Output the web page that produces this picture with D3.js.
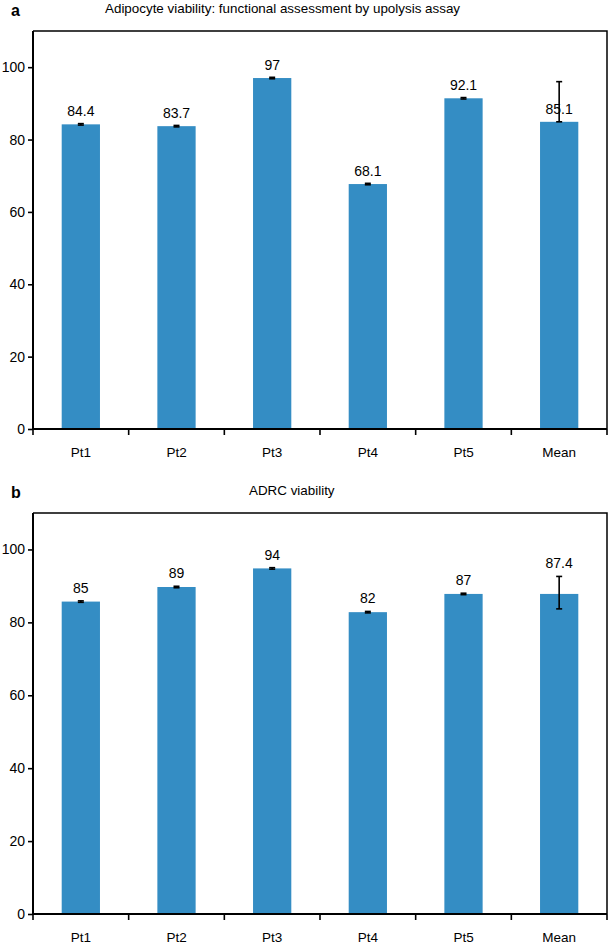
<!DOCTYPE html>
<html>
<head>
<meta charset="utf-8">
<script src="https://cdn.jsdelivr.net/npm/d3@7"></script>
<style>
  body { margin: 0; background: #fff; }
  svg { display: block; font-family: "Liberation Sans", Arial, sans-serif; }
</style>
</head>
<body>
<div id="chart"></div>
<script>
const WIDTH = 610;
const HEIGHT = 945;
const BAR_COLOR = "#348dc4";

// categories shared by both panels
const categories = ["Pt1", "Pt2", "Pt3", "Pt4", "Pt5", "Mean"];
const yTicks = [0, 20, 40, 60, 80, 100];

// panel a: adipocyte viability
const valuesA = [84.2, 83.7, 97.0, 67.7, 91.4, 84.9];
const labelsA = ["84.4", "83.7", "97", "68.1", "92.1", "85.1"];
const errLowA = [0.2, 0.2, 0.2, 0.2, 0.2, 0];
const errHighA = [0.2, 0.2, 0.2, 0.2, 0.2, 11.1];

// panel b: ADRC viability
const valuesB = [85.7, 89.7, 94.8, 82.8, 87.8, 87.8];
const labelsB = ["85", "89", "94", "82", "87", "87.4"];
const errLowB = [0.2, 0.2, 0.2, 0.2, 0.2, 4.1];
const errHighB = [0.2, 0.2, 0.2, 0.2, 0.2, 4.8];

const svg = d3.select("#chart")
    .append("svg")
    .attr("width", WIDTH)
    .attr("height", HEIGHT);

function drawPanel(opts) {
    const left = 33, right = 607;
    const y = d3.scaleLinear().domain([0, 110]).range([opts.bottom, opts.top]);
    const x = d3.scaleBand().domain(categories).range([left, right]).paddingInner(0).paddingOuter(0);
    const barW = x.bandwidth() * 0.4;

    // panel letter and title
    svg.append("text")
        .attr("x", 11).attr("y", opts.top - 15)
        .attr("font-size", 16).attr("font-weight", "bold")
        .text(opts.letter);
    svg.append("text")
        .attr("x", opts.titleX).attr("y", opts.top - 18)
        .attr("font-size", 13.4)
        .text(opts.title);

    // bars
    const data = categories.map((c, i) => ({
        cat: c, v: opts.values[i], label: opts.labels[i],
        lo: opts.errLow[i], hi: opts.errHigh[i]
    }));

    svg.selectAll(null)
        .data(data)
        .enter().append("rect")
        .attr("x", d => x(d.cat) + (x.bandwidth() - barW) / 2)
        .attr("y", d => y(d.v))
        .attr("width", barW)
        .attr("height", d => y(0) - y(d.v))
        .attr("fill", BAR_COLOR);

    // error bars
    const err = svg.append("g").attr("stroke", "#000").attr("stroke-width", 1.6);
    data.forEach(d => {
        const cx = x(d.cat) + x.bandwidth() / 2;
        const y1 = y(d.v + d.hi), y2 = y(d.v - d.lo);
        err.append("line").attr("x1", cx).attr("x2", cx).attr("y1", y1).attr("y2", y2);
        err.append("line").attr("x1", cx - 3).attr("x2", cx + 3).attr("y1", y1).attr("y2", y1);
        err.append("line").attr("x1", cx - 3).attr("x2", cx + 3).attr("y1", y2).attr("y2", y2);
    });

    // value labels above the bars (b puts the mean label over its error bar)
    svg.selectAll(null)
        .data(data)
        .enter().append("text")
        .attr("x", d => x(d.cat) + x.bandwidth() / 2)
        .attr("y", d => (opts.labelOverError ? y(d.v + d.hi) : y(d.v)) - 8)
        .attr("text-anchor", "middle")
        .attr("font-size", 14)
        .text(d => d.label);

    // frame top and right
    svg.append("path")
        .attr("d", `M${left},${opts.top}H${right}V${opts.bottom}`)
        .attr("fill", "none").attr("stroke", "#000").attr("stroke-width", 1.5);

    // y axis
    const yAxis = svg.append("g")
        .attr("transform", `translate(${left},0)`)
        .call(d3.axisLeft(y).tickValues(yTicks).tickSize(5).tickPadding(3));
    yAxis.select(".domain").attr("d", `M0,${opts.top}V${opts.bottom}`).attr("stroke-width", 2);
    yAxis.selectAll(".tick line").attr("stroke-width", 1.6);
    yAxis.selectAll("text").attr("font-size", 14).attr("fill", "#000")
        .attr("font-family", "Liberation Sans, Arial, sans-serif");

    // x axis with ticks at the band edges
    const xAxis = svg.append("g")
        .attr("transform", `translate(0,${opts.bottom})`)
        .call(d3.axisBottom(x).tickSize(0).tickPadding(18));
    xAxis.select(".domain").attr("d", `M${left},0H${right}`).attr("stroke-width", 2);
    xAxis.selectAll("text").attr("font-size", 13.5).attr("fill", "#000")
        .attr("font-family", "Liberation Sans, Arial, sans-serif");
    const edges = categories.map(c => x(c)).concat([right]);
    xAxis.selectAll(".edge")
        .data(edges)
        .enter().append("line")
        .attr("class", "edge")
        .attr("x1", d => d).attr("x2", d => d)
        .attr("y1", 0).attr("y2", 6)
        .attr("stroke", "#000").attr("stroke-width", 1.6);
}

drawPanel({
    letter: "a", title: "Adipocyte viability: functional assessment by upolysis assay",
    titleX: 105, top: 31, bottom: 429,
    values: valuesA, labels: labelsA, errLow: errLowA, errHigh: errHighA,
    labelOverError: false
});

drawPanel({
    letter: "b", title: "ADRC viability",
    titleX: 249, top: 513, bottom: 914,
    values: valuesB, labels: labelsB, errLow: errLowB, errHigh: errHighB,
    labelOverError: true
});
</script>
</body>
</html>
